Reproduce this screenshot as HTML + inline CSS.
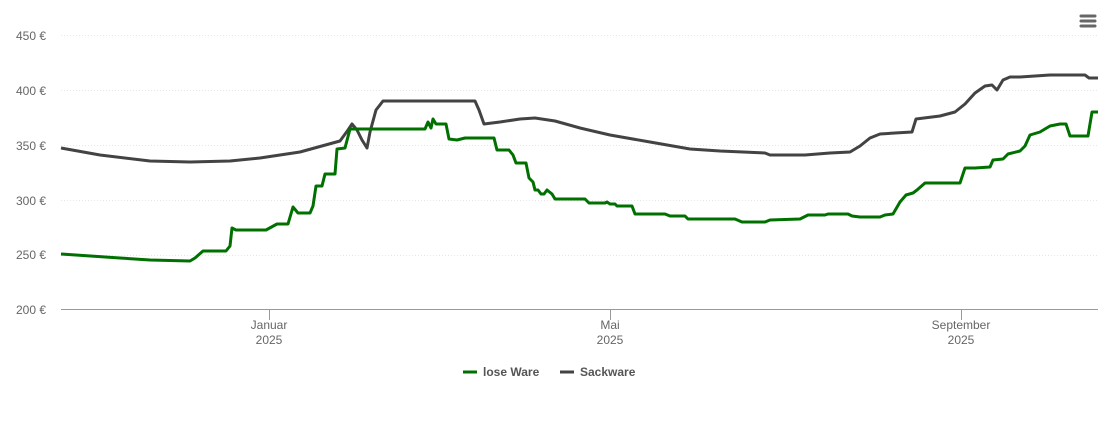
<!DOCTYPE html>
<html><head><meta charset="utf-8"><style>
html,body{margin:0;padding:0;background:#fff;}
svg{display:block;font-family:"Liberation Sans",sans-serif;}
</style></head><body>
<svg width="1110" height="422" viewBox="0 0 1110 422">
<g stroke="#e6e6e6" stroke-width="1" stroke-dasharray="1,2">
<line x1="61" x2="1098" y1="35.5" y2="35.5"/>
<line x1="61" x2="1098" y1="90.5" y2="90.5"/>
<line x1="61" x2="1098" y1="145.5" y2="145.5"/>
<line x1="61" x2="1098" y1="200.5" y2="200.5"/>
<line x1="61" x2="1098" y1="255.5" y2="255.5"/>
</g>
<line x1="61" x2="1098" y1="309.5" y2="309.5" stroke="#999" stroke-width="1"/>
<g stroke="#999"><line x1="269.5" x2="269.5" y1="310" y2="320"/><line x1="610.5" x2="610.5" y1="310" y2="320"/><line x1="961.5" x2="961.5" y1="310" y2="320"/></g>
<g font-size="12" fill="#666" text-anchor="end">
<text x="46" y="40">450 €</text><text x="46" y="95">400 €</text><text x="46" y="150">350 €</text><text x="46" y="205">300 €</text><text x="46" y="259">250 €</text><text x="46" y="314">200 €</text>
</g>
<g font-size="12" fill="#666" text-anchor="middle">
<text x="269" y="329">Januar</text><text x="269" y="344">2025</text>
<text x="610" y="329">Mai</text><text x="610" y="344">2025</text>
<text x="961" y="329">September</text><text x="961" y="344">2025</text>
</g>
<polyline fill="none" stroke="#434343" stroke-width="3" stroke-linejoin="round" points="61,148 100,155 150,161 190,162 230,161 260,158 300,152 340,141 348,130 352,124 357,130 362,140 367,148 370,132 376,110 383,101 475,101 479,110 484,124 500,122 520,119 535,118 555,121 580,128 610,135 650,142 690,149 720,151 765,153 770,155 805,155 830,153 850,152 860,146 870,138 880,134 895,133 912,132 916,119 940,116 955,112 965,104 975,93 985,86 992,85 997,90 1003,80 1010,77 1020,77 1050,75 1085,75 1089,78 1098,78"/>
<polyline fill="none" stroke="#007000" stroke-width="3" stroke-linejoin="round" points="61,254 120,258 150,260 190,261 195,258 203,251 220,251 226,251 230,246 232,228 236,230 266,230 277,224 288,224 293,207 298,213 310,213 313,206 316,186 322,186 325,174 335,174 337,149 345,148 350,129 425,129 428,122 431,128 433,119 436,124 446,124 449,139 457,140 465,138 470,138 494,138 497,150 509,150 513,155 516,163 526,163 529,178 533,182 535,190 538,190 541,194 544,194 547,190 552,194 555,199 585,199 589,203 605,203 607,202 610,204 615,204 617,206 632,206 635,214 665,214 670,216 685,216 688,219 735,219 742,222 765,222 770,220 800,219 808,215 825,215 828,214 848,214 852,216 860,217 880,217 885,215 893,214 900,202 906,195 913,193 917,190 925,183 960,183 965,168 975,168 990,167 993,160 1003,159 1008,154 1020,151 1025,146 1030,135 1040,132 1050,126 1060,124 1066,124 1070,136 1088,136 1092,112 1098,112"/>
<g stroke="#666" stroke-width="3" stroke-linecap="round"><line x1="1081" x2="1095" y1="16" y2="16"/><line x1="1081" x2="1095" y1="21" y2="21"/><line x1="1081" x2="1095" y1="26" y2="26"/></g>
<line x1="463" x2="477" y1="372" y2="372" stroke="#007000" stroke-width="3"/>
<text x="483" y="376" font-size="12" font-weight="bold" fill="#555">lose Ware</text>
<line x1="560" x2="574" y1="372" y2="372" stroke="#434343" stroke-width="3"/>
<text x="580" y="376" font-size="12" font-weight="bold" fill="#555">Sackware</text>
</svg>
</body></html>
